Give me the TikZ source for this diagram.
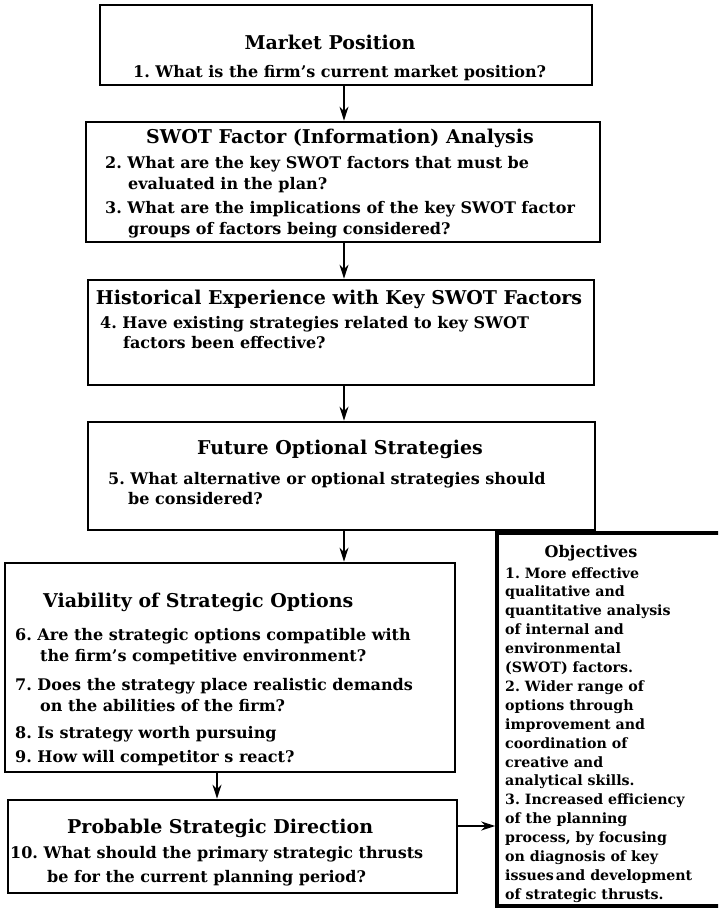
\documentclass[tikz,border=0pt]{standalone}
\usepackage{fontspec}
\setmainfont{DejaVu Serif}
\usetikzlibrary{arrows.meta}

\tikzset{
  panel/.style={draw, line width=2.7pt, inner sep=0pt},
  heading/.style={anchor=base, inner sep=0pt, font=\fontsize{19}{22}\selectfont\bfseries},
  headingL/.style={heading, anchor=base west},
  qline/.style={anchor=base west, inner sep=0pt, font=\fontsize{16}{20}\selectfont\bfseries},
  oline/.style={anchor=base west, inner sep=0pt, font=\fontsize{14.2}{19}\selectfont\bfseries},
  link/.style={line width=1.4pt, -{Stealth[length=14pt,width=9pt]}},
}

\begin{document}
\frenchspacing
\begin{tikzpicture}[x=1pt,y=-1pt]
\useasboundingbox (0,0) rectangle (718,909);
\clip (0,0) rectangle (718,909);

% frames of the stages
\node[panel, minimum width=492, minimum height=80]  (mkt)  at (346,45)    {};
\node[panel, minimum width=514, minimum height=120] (swot) at (343,182)   {};
\node[panel, minimum width=506, minimum height=105] (hist) at (341,332.5) {};
\node[panel, minimum width=507, minimum height=108] (fut)  at (341.5,476) {};
\node[panel, minimum width=450, minimum height=209] (viab) at (230,667.5) {};
\node[panel, minimum width=449, minimum height=93]  (prob) at (232.5,846.5) {};
\node[panel, line width=3.6pt, minimum width=248, minimum height=373] (obj) at (621,719.5) {};

% Market Position
\node[heading] (mktT) at (330,50) {Market Position};
\node[qline] (q1) at (133,78) {1. What is the firm's current market position?};

% SWOT analysis
\node[heading] (swotT) at (340,144) {SWOT Factor (Information) Analysis};
\node[qline] (q2a) at (105,169) {2. What are the key SWOT factors that must be};
\node[qline] (q2b) at (128,190) {evaluated in the plan?};
\node[qline] (q3a) at (105,214) {3. What are the implications of the key SWOT factor};
\node[qline] (q3b) at (128,235) {groups of factors being considered?};

% Historical experience
\node[heading] (histT) at (339,304) {Historical Experience with Key SWOT Factors};
\node[qline] (q4a) at (100,328) {4. Have existing strategies related to key SWOT};
\node[qline] (q4b) at (123,348) {factors been effective?};

% Future strategies
\node[heading] (futT) at (340,454) {Future Optional Strategies};
\node[qline] (q5a) at (108,484) {5. What alternative or optional strategies should};
\node[qline] (q5b) at (128,504) {be considered?};

% Viability
\node[headingL] (viabT) at (43,607) {Viability of Strategic Options};
\node[qline] (q6a) at (15,640) {6. Are the strategic options compatible with};
\node[qline] (q6b) at (40,661) {the firm's competitive environment?};
\node[qline] (q7a) at (15,690) {7. Does the strategy place realistic demands};
\node[qline] (q7b) at (40,711) {on the abilities of the firm?};
\node[qline] (q8)  at (15,738) {8. Is strategy worth pursuing};
\node[qline] (q9)  at (15,762) {9. How will competitor s react?};

% Probable direction
\node[headingL] (probT) at (67,833) {Probable Strategic Direction};
\node[qline] (q10a) at (10,858) {10. What should the primary strategic thrusts};
\node[qline] (q10b) at (47,882) {be for the current planning period?};

% Objectives
\node[heading, font=\fontsize{16}{19}\selectfont\bfseries] (objT) at (591,557) {Objectives};
\foreach \t [count=\i] in {
  1. More effective, qualitative and, quantitative analysis, of internal and,
  environmental, (SWOT) factors., 2. Wider range of, options through,
  improvement and, coordination of, creative and, analytical skills.,
  3. Increased efficiency, of the planning, {process, by focusing},
  on diagnosis of key, issues\hspace{2pt}and development, of strategic thrusts.}
  \node[oline] (obj\i) at (505,{578+18.9*(\i-1)}) {\t};

% flow
\coordinate (spine) at (344,0);
\coordinate (drop) at (217,0);
\coordinate (tie) at (0,826);
\draw[link] (mkt.south -| spine) -- (swot.north -| spine);
\draw[link] (swot.south -| spine) -- (hist.north -| spine);
\draw[link] (hist.south -| spine) -- (fut.north -| spine);
\draw[link] (fut.south -| spine) -- (viab.north -| spine);
\draw[link] (viab.south -| drop) -- (prob.north -| drop);
\draw[link] (prob.east |- tie) -- (obj.west |- tie);
\end{tikzpicture}
\end{document}
